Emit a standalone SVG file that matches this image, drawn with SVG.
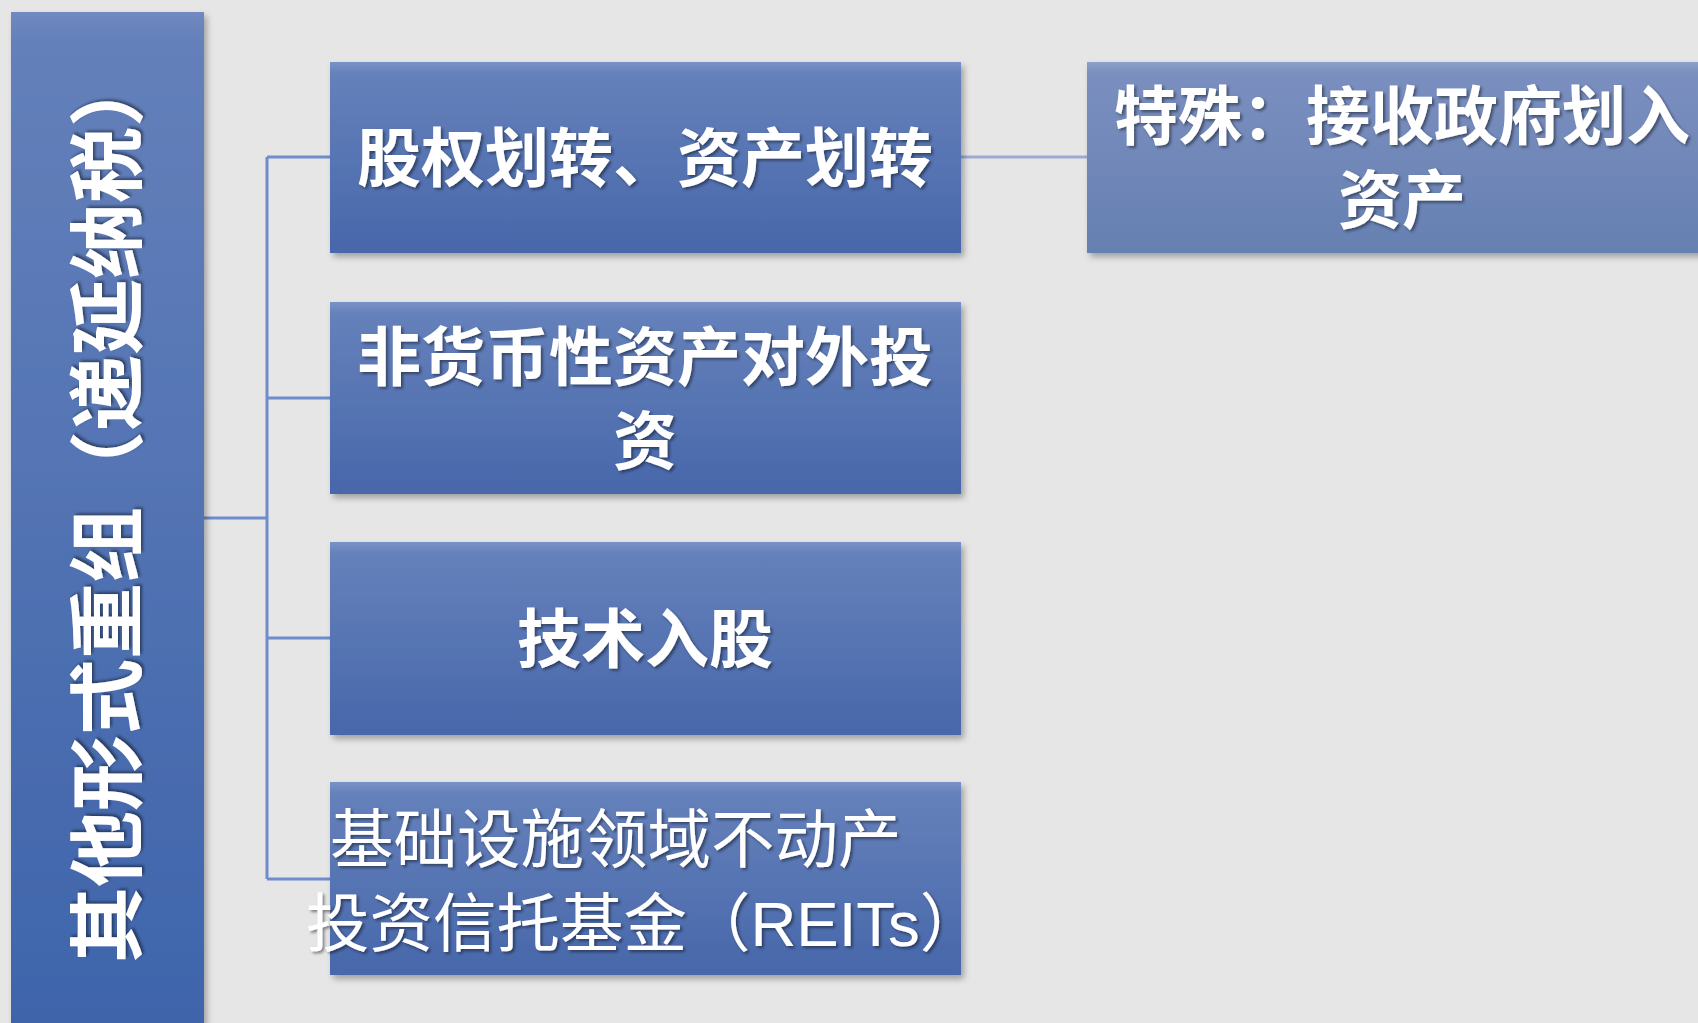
<svg xmlns="http://www.w3.org/2000/svg" width="1698" height="1023" viewBox="0 0 1698 1023">
<defs>
<linearGradient id="gBox" x1="0" y1="0" x2="0" y2="1">
<stop offset="0" stop-color="#7b93c6"/>
<stop offset="0.06" stop-color="#6581bb"/>
<stop offset="1" stop-color="#4767aa"/>
</linearGradient>
<linearGradient id="gBar" x1="0" y1="0" x2="0" y2="1">
<stop offset="0" stop-color="#7089c0"/>
<stop offset="0.03" stop-color="#6480ba"/>
<stop offset="1" stop-color="#3e64ab"/>
</linearGradient>
<linearGradient id="gGrey" x1="0" y1="0" x2="0" y2="1">
<stop offset="0" stop-color="#8ea0c8"/>
<stop offset="0.06" stop-color="#7a8fbf"/>
<stop offset="1" stop-color="#6680b2"/>
</linearGradient>
<filter id="sh" x="-5%" y="-5%" width="115%" height="120%">
<feDropShadow dx="3" dy="4" stdDeviation="3" flood-color="#000" flood-opacity="0.3"/>
</filter>
<filter id="tsh" x="-5%" y="-10%" width="110%" height="130%">
<feDropShadow dx="2" dy="2" stdDeviation="1.5" flood-color="#000" flood-opacity="0.45"/>
</filter>
</defs>
<style>
.t{font-family:"Noto Sans CJK SC","Liberation Sans",sans-serif;fill:#fff;}
.l{font-family:"Liberation Sans","Noto Sans CJK SC",sans-serif;}
.b{font-weight:bold;}
.c{stroke:#6f8ccc;stroke-width:3;fill:none;}
</style>
<rect width="1698" height="1023" fill="#e6e6e6"/>
<g id="connectors">
<path class="c" d="M204 518 H267 M267 157 V879 M267 157 H330 M267 398 H330 M267 638 H330 M267 879 H330"/>
<path d="M961 157 H1087" stroke="#9babd4" stroke-width="3" fill="none"/>
</g>
<g id="bar">
<rect x="11" y="12" width="193" height="1020" fill="url(#gBar)" filter="url(#sh)"/>
<text class="t b" font-size="76" text-anchor="middle" transform="translate(108 507) rotate(-90)" dy="27" filter="url(#tsh)">其他形式重组（递延纳税）</text>
</g>
<g id="n1">
<rect x="330" y="62" width="631" height="191" fill="url(#gBox)" filter="url(#sh)"/>
<text class="t b" x="645" y="181" font-size="64" text-anchor="middle" filter="url(#tsh)">股权划转、资产划转</text>
</g>
<g id="n2">
<rect x="330" y="302" width="631" height="192" fill="url(#gBox)" filter="url(#sh)"/>
<text class="t b" x="645" y="380" font-size="64" text-anchor="middle" filter="url(#tsh)">非货币性资产对外投</text>
<text class="t b" x="645" y="464" font-size="64" text-anchor="middle" filter="url(#tsh)">资</text>
</g>
<g id="n3">
<rect x="330" y="542" width="631" height="193" fill="url(#gBox)" filter="url(#sh)"/>
<text class="t b" x="645" y="662" font-size="64" text-anchor="middle" filter="url(#tsh)">技术入股</text>
</g>
<g id="n4">
<rect x="330" y="782" width="631" height="193" fill="url(#gBox)" filter="url(#sh)"/>
<text class="t l" x="330" y="862" font-size="63.5" filter="url(#tsh)">基础设施领域不动产</text>
<text class="t l" x="306" y="946" font-size="63.5" filter="url(#tsh)">投资信托基金（REITs）</text>
</g>
<g id="n5">
<rect x="1087" y="62" width="640" height="191" fill="url(#gGrey)" filter="url(#sh)"/>
<text class="t b" x="1402" y="139" font-size="64" text-anchor="middle" filter="url(#tsh)">特殊：接收政府划入</text>
<text class="t b" x="1402" y="223" font-size="64" text-anchor="middle" filter="url(#tsh)">资产</text>
</g>
</svg>
